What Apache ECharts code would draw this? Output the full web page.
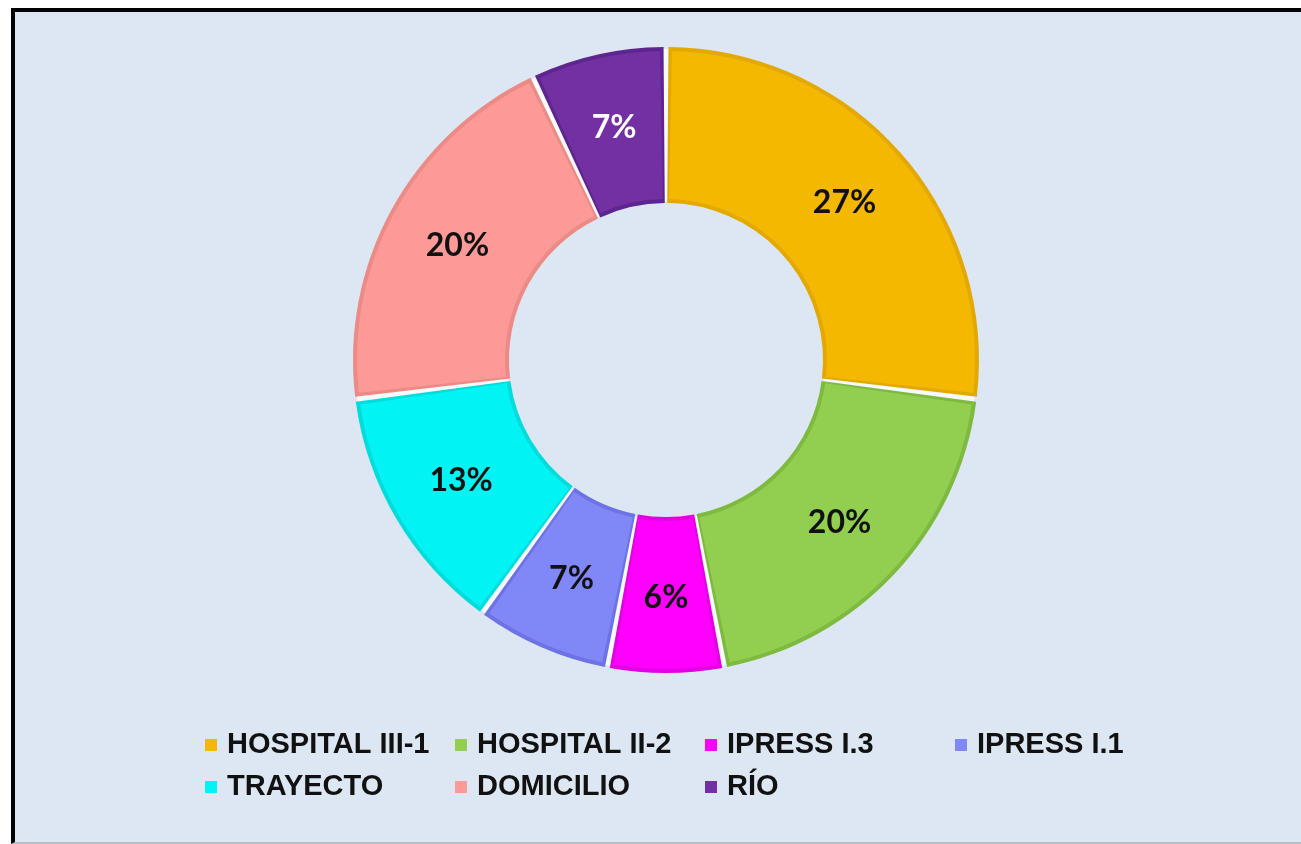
<!DOCTYPE html>
<html>
<head>
<meta charset="utf-8">
<title>Distribución por lugar</title>
<script src="https://cdn.jsdelivr.net/npm/echarts@6/dist/echarts.min.js"></script>
<style>
  html, body { margin: 0; padding: 0; width: 1301px; height: 844px; background: #ffffff; overflow: hidden; }
  #frame {
    position: absolute; left: 11px; top: 8px; right: 0; bottom: 0;
    border-top: 4px solid #000; border-left: 4px solid #000;
    border-bottom: 2px solid #b9bcc2;
    background: #dce7f3;
  }
  #chart { position: absolute; left: 0; top: 0; width: 1301px; height: 844px; }
</style>
</head>
<body>
<div id="frame"></div>
<div id="chart"></div>
<script>
// Categories and their share of the total (percent)
const categories = ['HOSPITAL III-1', 'HOSPITAL II-2', 'IPRESS I.3', 'IPRESS I.1', 'TRAYECTO', 'DOMICILIO', 'RÍO'];
const shares = [27, 20, 6, 7, 13, 20, 7];

// Slice fill colours and the slightly darker rim drawn around each slice
const fillColors = ['#f4b800', '#92cf50', '#ff00ff', '#8087f6', '#00f4f4', '#fb9a96', '#7230a2'];
const rimColors  = ['#e3a900', '#7eba3f', '#e300e3', '#6d73e4', '#00dcdc', '#ec8a86', '#5e2590'];
const labelColors = ['#111', '#111', '#111', '#111', '#111', '#111', '#ffffff'];

const center = [666, 360];

const chart = echarts.init(document.getElementById('chart'), null, { renderer: 'canvas' });

const option = {
  backgroundColor: 'transparent',
  animation: false,
  legend: {
    left: 200,
    top: 719,
    width: 1040,
    icon: 'rect',
    itemWidth: 12,
    itemHeight: 12,
    itemGap: 0,
    selectedMode: false,
    textStyle: {
      fontFamily: 'Liberation Sans',
      fontWeight: 'bold',
      fontSize: 29,
      color: '#111',
      width: 228,
      lineHeight: 42,
      padding: [0, 0, 0, 5]
    },
    data: categories.map((name, i) => ({ name, itemStyle: { color: fillColors[i] } }))
  },
  series: [
    {
      // coloured slices with percentage labels
      name: 'fill',
      type: 'pie',
      z: 3,
      center: center,
      radius: [161, 309],
      startAngle: 90,
      clockwise: true,
      padAngle: 2.2,
      avoidLabelOverlap: false,
      emphasis: { disabled: true },
      label: {
        show: true,
        position: 'inside',
        fontFamily: 'Lato',
        fontWeight: 'bold',
        fontSize: 32,
        formatter: p => p.value + '%'
      },
      labelLine: { show: false },
      data: categories.map((name, i) => ({
        name,
        value: shares[i],
        itemStyle: { color: fillColors[i] },
        label: { color: labelColors[i] }
      }))
    },
    {
      // darker rim underneath each slice
      name: 'rim',
      type: 'pie',
      z: 2,
      silent: true,
      center: center,
      radius: [157, 313],
      startAngle: 90,
      clockwise: true,
      padAngle: 0.9,
      emphasis: { disabled: true },
      label: { show: false },
      labelLine: { show: false },
      data: categories.map((name, i) => ({
        name,
        value: shares[i],
        itemStyle: { color: rimColors[i] }
      }))
    },
    {
      // pale ring showing through the gaps between slices
      name: 'gap',
      type: 'pie',
      z: 1,
      silent: true,
      center: center,
      radius: [159, 311],
      emphasis: { disabled: true },
      label: { show: false },
      labelLine: { show: false },
      data: [{ name: '', value: 1, itemStyle: { color: '#f6f9fd' } }]
    }
  ]
};

chart.setOption(option);
</script>
</body>
</html>
